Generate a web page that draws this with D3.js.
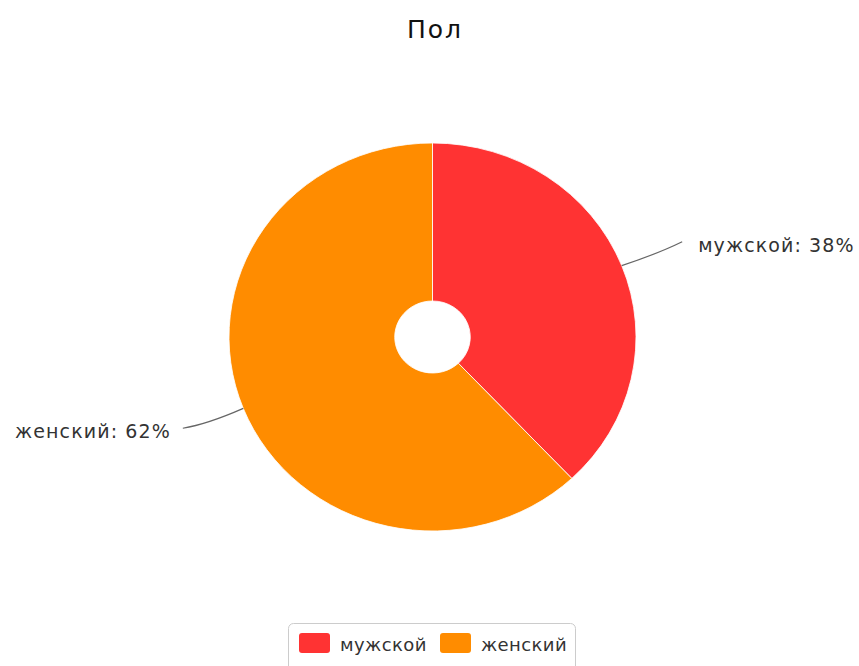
<!DOCTYPE html>
<html>
<head>
<meta charset="utf-8">
<script src="https://cdn.jsdelivr.net/npm/d3@7"></script>
<style>
  html, body { margin: 0; padding: 0; background: #fff; }
  svg { display: block; }
</style>
</head>
<body>
<svg id="chart" width="859" height="666"></svg>
<script>
const title = "Пол";
const categories = ["мужской", "женский"];
const values = [38, 62];
const colors = ["#FF3333", "#FF8C00"];

const W = 859, H = 666;
const svg = d3.select("#chart");
const cx = 432.5, cy = 337, R = 194, r0 = 36, sx = 203.5 / 194;

svg.append("text")
  .attr("x", 435).attr("y", 38)
  .attr("text-anchor", "middle")
  .attr("font-family", "DejaVu Sans, Verdana, sans-serif")
  .attr("font-size", 25)
  .attr("letter-spacing", 2)
  .attr("fill", "#111")
  .text(title);

const color = d3.scaleOrdinal().domain(categories).range(colors);
const pie = d3.pie().sort(null).value(d => d.v);
const data = categories.map((c, i) => ({ c, v: values[i] }));
const arcs = pie(data);
const arc = d3.arc().innerRadius(r0).outerRadius(R);
const total = d3.sum(values);

const g = svg.append("g").attr("transform", `translate(${cx},${cy}) scale(${sx},1)`);
g.selectAll("path").data(arcs).join("path")
  .attr("d", arc)
  .attr("fill", d => color(d.data.c))
  .attr("stroke", "#fff")
  .attr("stroke-width", 0.8);

// labels with connectors
const lab = svg.append("g");
arcs.forEach(d => {
  const a = (d.startAngle + d.endAngle) / 2;
  const sa = Math.sin(a), ca = Math.cos(a);
  const right = sa > 0;
  const p0 = [cx + R * sx * sa, cy - R * ca];
  const p2 = [cx + (R + 62) * sx * sa, cy - (R + 62) * ca];
  const end = right ? [p2[0], p2[1] - 1] : [p2[0], p2[1] - 3];
  const q = [(p0[0] + end[0]) / 2 + (right ? 6 : -6), (p0[1] + end[1]) / 2 + (right ? 0 : 6)];
  lab.append("path")
    .attr("d", `M${p0[0]},${p0[1]} Q${q[0]},${q[1]} ${end[0]},${end[1]}`)
    .attr("fill", "none")
    .attr("stroke", "#666")
    .attr("stroke-width", 1.2);
  const pct = Math.round(d.data.v / total * 100);
  lab.append("text")
    .attr("x", right ? end[0] + 16 : end[0] - 12)
    .attr("y", end[1] + 10)
    .attr("text-anchor", right ? "start" : "end")
    .attr("font-family", "DejaVu Sans, Verdana, sans-serif")
    .attr("font-size", 19)
    .attr("letter-spacing", 1.1)
    .attr("fill", "#333")
    .text(`${d.data.c}: ${pct}%`);
});

// legend
const lg = svg.append("g");
lg.append("rect")
  .attr("x", 288.5).attr("y", 623.5)
  .attr("width", 287).attr("height", 60)
  .attr("rx", 5)
  .attr("fill", "#fff")
  .attr("stroke", "#ccc");
const legX = [299, 440];
categories.forEach((c, i) => {
  lg.append("rect")
    .attr("x", legX[i]).attr("y", 633)
    .attr("width", 31).attr("height", 20)
    .attr("rx", 3)
    .attr("fill", color(c));
  lg.append("text")
    .attr("x", legX[i] + 41).attr("y", 651)
    .attr("font-family", "DejaVu Sans, Verdana, sans-serif")
    .attr("font-size", 18)
    .attr("letter-spacing", 0.4)
    .attr("fill", "#333")
    .text(c);
});
</script>
</body>
</html>
